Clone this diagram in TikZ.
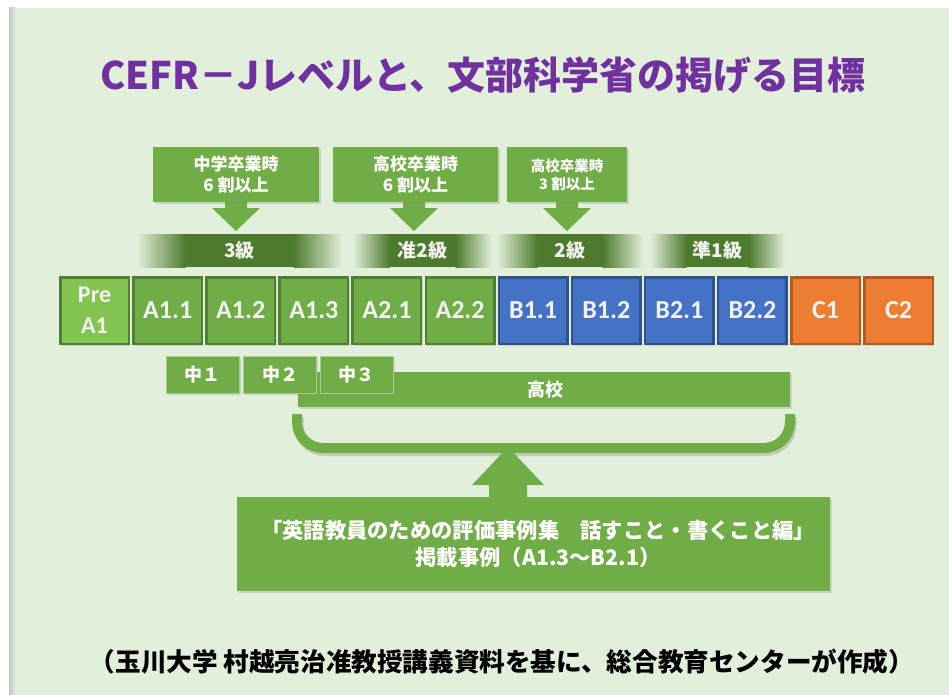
\documentclass[tikz,border=0pt]{standalone}
\usepackage{fontspec}
\newfontfamily\jp{Noto Sans CJK JP}
\newfontfamily\lat{Carlito}
\usetikzlibrary{shadows}
\definecolor{bg}{HTML}{E2EFDA}
\definecolor{grn}{HTML}{70AD47}
\definecolor{grnd}{HTML}{507E32}
\definecolor{grnband}{HTML}{4E7A2E}
\definecolor{preg}{HTML}{84C450}
\definecolor{blu}{HTML}{4472C4}
\definecolor{blud}{HTML}{2F528F}
\definecolor{org}{HTML}{ED7D31}
\definecolor{orgd}{HTML}{AE5A21}
\definecolor{purp}{HTML}{7030A0}
\newcommand\callarrow[2]{\fill[grn] (#1-11,#2-1) -- (#1-11,#2+6) -- (#1-24,#2+6) -- (#1,#2+29) -- (#1+24,#2+6) -- (#1+11,#2+6) -- (#1+11,#2-1) -- cycle;}
\newcommand\gradeband[5]{% x1, x2, name, label, fade
  \shade[left color=bg, right color=grnband] (#1,234) rectangle (#1+#5+0.5,267);
  \fill[grnband] (#1+#5,234) rectangle (#2-#5,267);
  \shade[left color=grnband, right color=bg] (#2-#5-0.5,234) rectangle (#2,267);
  \node[bandtext] (#3) at ({(#1+#2)/2},250.5) {#4};}
\begin{document}
\begin{tikzpicture}[x=1pt,y=-1pt,
  shad/.style={drop shadow={opacity=0.25, shadow xshift=1.5pt, shadow yshift=-2pt}},
  lvl/.style={minimum width=68.5pt, minimum height=66.5pt, line width=2.5pt, inner sep=0pt,
    font=\lat\bfseries\fontsize{26}{28}\selectfont, text=white!95!black, align=center, shad},
  lvlP/.style={lvl, fill=preg, draw=grnd},
  lvlA/.style={lvl, fill=grn, draw=grnd},
  lvlB/.style={lvl, fill=blu, draw=blud},
  lvlC/.style={lvl, fill=org, draw=orgd},
  callbox/.style={fill=grn, inner sep=0pt, align=center, text=white, shad,
    font=\jp\bfseries\fontsize{17}{21}\selectfont},
  bandtext/.style={text=white!95!black, font=\jp\bfseries\fontsize{19}{22}\selectfont},
  jbox/.style={fill=grn, draw=grn!60!white, line width=0.8pt, minimum width=73pt, minimum height=37pt,
    inner sep=0pt, text=white, font=\jp\bfseries\fontsize{18}{20}\selectfont, shad},
]
\useasboundingbox (0,0) rectangle (949,695);
% background
\fill[white] (0,0) rectangle (949,695);
\shade[left color=gray!45, right color=bg] (9,8) rectangle (16,695);
\fill[bg] (15.5,8) rectangle (949,695);

% title
\node[font=\jp\bfseries\fontsize{38}{44}\selectfont, text=purp] (title) at (483,75)
  {CEFR－Jレベルと、文部科学省の掲げる目標};

% callouts
\callarrow{236}{202}
\node[callbox, minimum width=166pt, minimum height=55pt] (cb1) at (236,174.5) {中学卒業時\\6 割以上};
\callarrow{414}{202}
\node[callbox, minimum width=165pt, minimum height=55pt] (cb2) at (415.5,174.5) {高校卒業時\\6 割以上};
\callarrow{567}{202}
\node[callbox, minimum width=120pt, minimum height=55pt,
  font=\jp\bfseries\fontsize{14.5}{18}\selectfont] (cb3) at (567,174.5) {高校卒業時\\3 割以上};

% grade bands
\gradeband{137}{342}{g3}{3級}{48}
\gradeband{353}{492}{gp2}{准2級}{36}
\gradeband{497}{643}{g2}{2級}{40}
\gradeband{650}{785}{gp1}{準1級}{36}

% level row
\node[lvlP, font=\lat\bfseries\fontsize{24}{31}\selectfont] (l0) at (94.55,310.5) {Pre\\A1};
\node[lvlA] (l1) at (167.65,310.5) {A1.1};
\node[lvlA] (l2) at (240.75,310.5) {A1.2};
\node[lvlA] (l3) at (313.85,310.5) {A1.3};
\node[lvlA] (l4) at (386.95,310.5) {A2.1};
\node[lvlA] (l5) at (460.05,310.5) {A2.2};
\node[lvlB] (l6) at (533.15,310.5) {B1.1};
\node[lvlB] (l7) at (606.25,310.5) {B1.2};
\node[lvlB] (l8) at (679.35,310.5) {B2.1};
\node[lvlB] (l9) at (752.45,310.5) {B2.2};
\node[lvlC] (l10) at (825.55,310.5) {C1};
\node[lvlC] (l11) at (898.65,310.5) {C2};

% high school bar
\node[fill=grn, minimum width=492pt, minimum height=35pt, inner sep=0pt, shad] (hs) at (544,389.5) {};
\node[text=white, font=\jp\bfseries\fontsize{18}{20}\selectfont] (hst) at (545,389.5) {高校};

% junior high boxes
\node[jbox] (j1) at (202.5,374.5) {中１};
\node[jbox] (j2) at (280,374.5) {中２};
\node[jbox] (j3) at (356.5,374.5) {中３};

% bracket (shadow stroke, then bracket)
\draw[black, opacity=0.15, line width=10pt, rounded corners=26pt]
  (298.5,417) -- (298.5,451) -- (791.5,451) -- (791.5,417);
\draw[grn, line width=10pt, rounded corners=26pt]
  (297,414) -- (297,448) -- (790,448) -- (790,414);

% bottom box with up arrow
\fill[grn] (508,447) -- (544,485) -- (527,485) -- (527,500) -- (489,500) -- (489,485) -- (472,485) -- cycle;
\node[fill=grn, minimum width=593pt, minimum height=94pt, inner sep=0pt, shad] (bb) at (533.5,544) {};
\node[text=white, align=center, font=\jp\bfseries\fontsize{21.3}{27}\selectfont] (bbt) at (538,544)
  {「英語教員のための評価事例集　話すこと・書くこと編」\\掲載事例（A1.3～B2.1）};

% footer
\node[font=\jp\bfseries\fontsize{25.6}{28}\selectfont, text=black] (foot) at (502,662)
  {（玉川大学 村越亮治准教授講義資料を基に、総合教育センターが作成）};
\end{tikzpicture}
\end{document}
